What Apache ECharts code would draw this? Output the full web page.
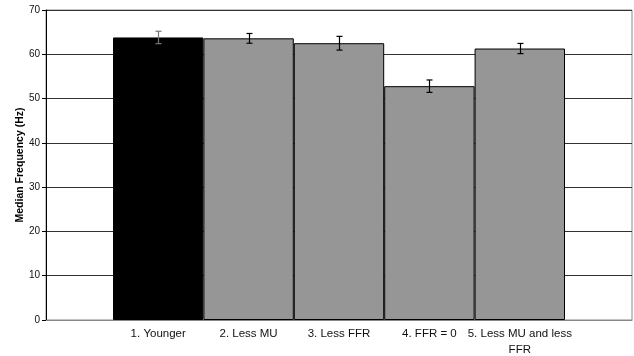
<!DOCTYPE html>
<html><head><meta charset="utf-8">
<script src="https://cdn.jsdelivr.net/npm/echarts@6/dist/echarts.min.js"></script>
<style>html,body{margin:0;padding:0;background:#fff}#c{width:634px;height:356px}</style>
</head><body><div id="c"></div>
<script>
const categories = ['1. Younger', '2. Less MU', '3. Less FFR', '4. FFR = 0', '5. Less MU and less\nFFR'];
const values = [63.8, 63.6, 62.5, 52.8, 61.3];
const errors = [1.4, 1.1, 1.55, 1.4, 1.15];
const barColors = ['#000000', '#969696', '#969696', '#969696', '#969696'];
const yTicks = {min: 0, max: 70, interval: 10};

const font = 'Liberation Sans, Arial, sans-serif';
const chart = echarts.init(document.getElementById('c'), null, {renderer: 'canvas'});
chart.setOption({
  animation: false,
  grid: [
    {left: 46, right: 2, top: 10, bottom: 36, show: true, borderColor: '#888', borderWidth: 1, outerBoundsMode: 'none', containLabel: false},
    {left: 113, right: 69, top: 10, bottom: 36, outerBoundsMode: 'none', containLabel: false}
  ],
  xAxis: [
    {gridIndex: 0, type: 'value', min: 0, max: 1, axisLabel: {show: false}, axisTick: {show: false},
     splitLine: {show: false}, axisLine: {show: true, lineStyle: {color: '#888', width: 1}}},
    {gridIndex: 1, type: 'category', data: categories, axisLine: {show: false}, axisTick: {show: false},
     axisLabel: {color: '#111', fontFamily: font, fontSize: 11.5, margin: 6, lineHeight: 16, interval: 0}}
  ],
  yAxis: [
    {gridIndex: 0, type: 'value', min: yTicks.min, max: yTicks.max, interval: yTicks.interval,
     name: 'Median Frequency (Hz)', nameLocation: 'middle', nameGap: 20, nameMoveOverlap: false,
     nameTextStyle: {fontFamily: font, fontSize: 10.5, fontWeight: 'bold', color: '#000'},
     axisLine: {show: true, lineStyle: {color: '#000', width: 1}},
     axisTick: {show: true, length: 4, lineStyle: {color: '#000'}},
     axisLabel: {color: '#111', fontFamily: font, fontSize: 10, margin: 6},
     splitLine: {show: true, lineStyle: {color: '#333', width: 1}}},
    {gridIndex: 1, type: 'value', min: yTicks.min, max: yTicks.max, show: false}
  ],
  series: [
    {type: 'bar', xAxisIndex: 1, yAxisIndex: 1, barCategoryGap: '0%',
     data: values.map((v, i) => ({value: v, itemStyle: {color: barColors[i], borderColor: '#000', borderWidth: 1}}))},
    {type: 'custom', xAxisIndex: 1, yAxisIndex: 1, z: 10,
     data: values.map((v, i) => [i, v - errors[i], v + errors[i]]),
     renderItem: function (params, api) {
       const lo = api.coord([api.value(0), api.value(1)]);
       const hi = api.coord([api.value(0), api.value(2)]);
       const x = Math.round(lo[0]) + 0.5;
       const w = 3;
       const col = params.dataIndex === 0 ? '#777' : '#000';
       const st = {stroke: col, lineWidth: 1.2};
       return {type: 'group', children: [
         {type: 'line', shape: {x1: x, y1: lo[1], x2: x, y2: hi[1]}, style: st},
         {type: 'line', shape: {x1: x - w, y1: lo[1], x2: x + w, y2: lo[1]}, style: st},
         {type: 'line', shape: {x1: x - w, y1: hi[1], x2: x + w, y2: hi[1]}, style: st}
       ]};
     }}
  ]
});
</script></body></html>
